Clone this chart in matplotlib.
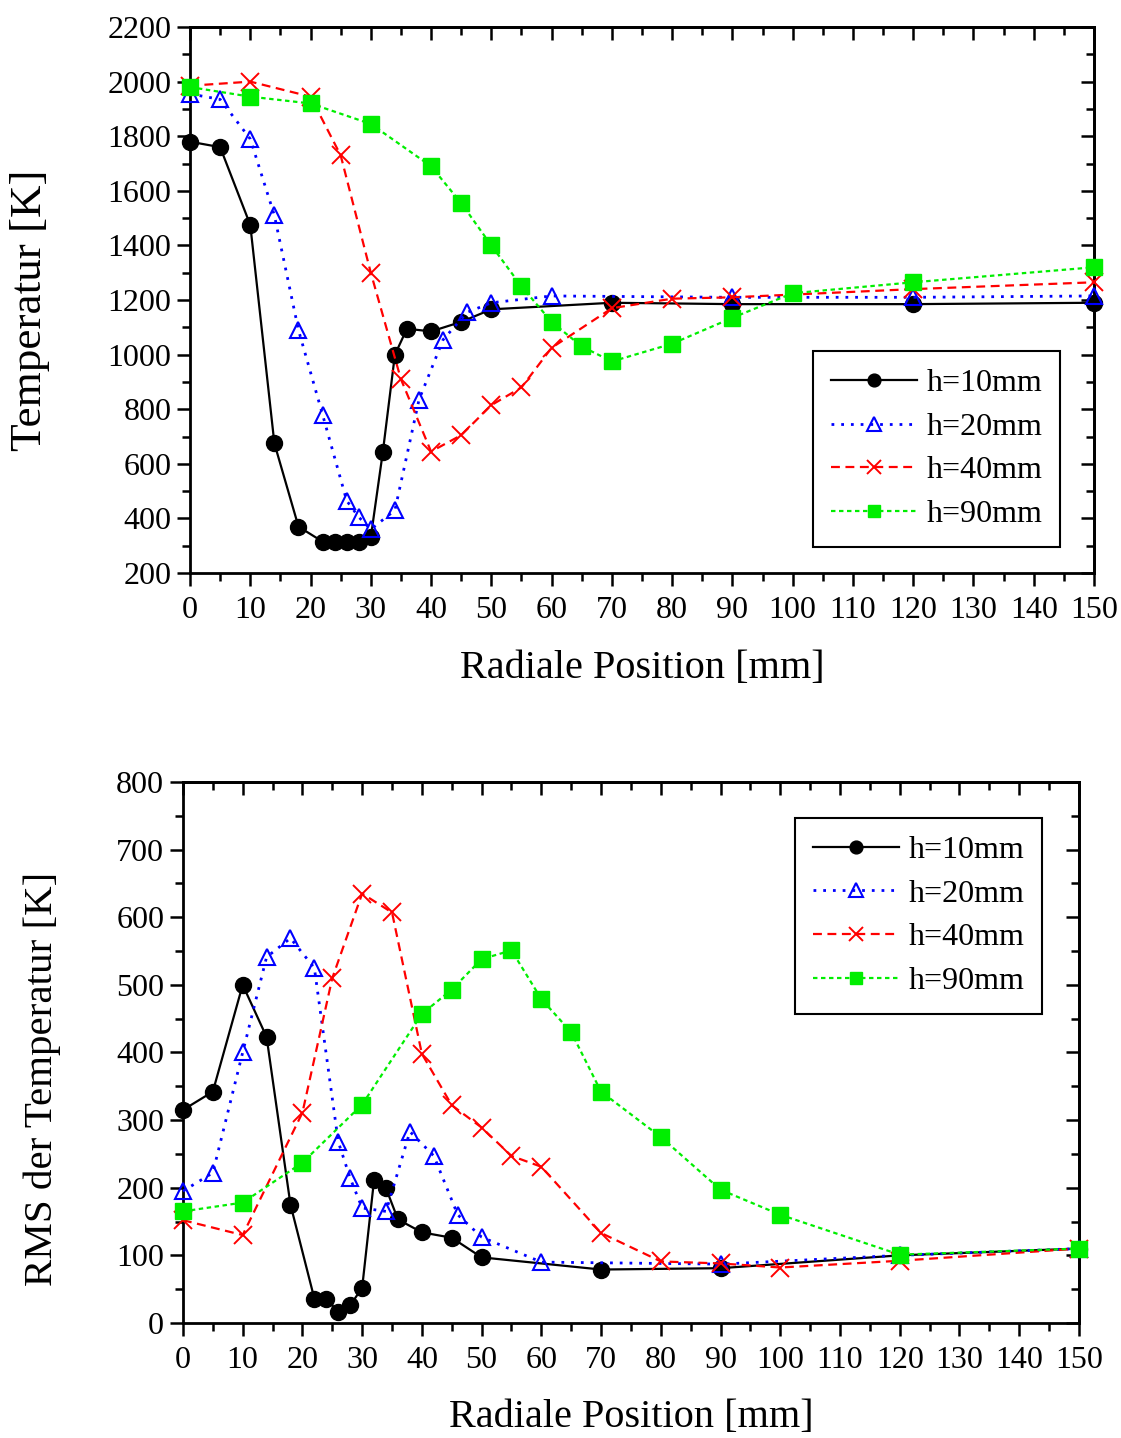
import matplotlib
matplotlib.use("Agg")
import matplotlib.pyplot as plt
from matplotlib.ticker import MultipleLocator

plt.rcParams['font.family'] = ['Liberation Serif', 'DejaVu Serif']
plt.rcParams['mathtext.fontset'] = 'stix'

# ---------------- Data: Temperature ----------------
t10_x = [0, 5, 10, 14, 18, 22, 24, 26, 28, 30, 32, 34, 36, 40, 45, 50, 70, 90, 120, 150]
t10_y = [1780, 1760, 1475, 675, 370, 315, 315, 312, 315, 331, 644, 1000, 1095, 1085, 1120, 1166, 1190, 1185, 1185, 1190]

t20_x = [0, 5, 10, 14, 18, 22, 26, 28, 30, 34, 38, 42, 46, 50, 60, 90, 120, 150]
t20_y = [1955, 1935, 1790, 1510, 1090, 780, 465, 405, 360, 430, 835, 1055, 1155, 1190, 1215, 1210, 1210, 1215]

t40_x = [0, 10, 20, 25, 30, 35, 40, 45, 50, 55, 60, 70, 80, 90, 120, 150]
t40_y = [1985, 2000, 1945, 1730, 1300, 910, 645, 705, 815, 880, 1025, 1170, 1205, 1210, 1240, 1265]

t90_x = [0, 10, 20, 30, 40, 45, 50, 55, 60, 65, 70, 80, 90, 100, 120, 150]
t90_y = [1980, 1945, 1920, 1845, 1690, 1555, 1400, 1250, 1120, 1030, 975, 1040, 1135, 1225, 1265, 1320]

# ---------------- Data: RMS ----------------
r10_x = [0, 5, 10, 14, 18, 22, 24, 26, 28, 30, 32, 34, 36, 40, 45, 50, 70, 90, 120, 150]
r10_y = [315, 342, 500, 423, 175, 36, 36, 16, 26, 52, 212, 199, 153, 134, 126, 97, 79, 81, 100, 110]

r20_x = [0, 5, 10, 14, 18, 22, 26, 28, 30, 34, 38, 42, 46, 50, 60, 90, 120, 150]
r20_y = [195, 222, 400, 541, 569, 525, 268, 214, 170, 165, 283, 247, 160, 127, 90, 87, 100, 110]

r40_x = [0, 10, 20, 25, 30, 35, 40, 45, 50, 55, 60, 70, 80, 90, 100, 120, 150]
r40_y = [152, 130, 311, 510, 635, 607, 398, 322, 289, 247, 231, 133, 91, 88, 82, 92, 110]

r90_x = [0, 10, 20, 30, 40, 45, 50, 55, 60, 65, 70, 80, 90, 100, 120, 150]
r90_y = [165, 178, 237, 323, 457, 493, 538, 551, 479, 430, 342, 275, 197, 160, 101, 110]

labels = ["h=10mm", "h=20mm", "h=40mm", "h=90mm"]

styles = [
    dict(color='black', linestyle='-', marker='o', markersize=11.5, markerfacecolor='black',
         markeredgecolor='black', linewidth=1.6),
    dict(color='#0000ff', linestyle=(0, (1, 2.5)), marker='^', markersize=12, markerfacecolor='none',
         markeredgecolor='#0000ff', markeredgewidth=1.5, linewidth=2.0),
    dict(color='#ff0000', linestyle=(0, (4, 2.5)), marker='x', markersize=12.5,
         markeredgecolor='#ff0000', markeredgewidth=1.4, linewidth=1.6),
    dict(color='#00ee00', linestyle=(0, (2, 1.6)), marker='s', markersize=11, markerfacecolor='#00ee00',
         markeredgecolor='#00ee00', linewidth=1.6),
]

fig = plt.figure(figsize=(11.21, 14.38), dpi=100)
ax1 = fig.add_axes([0.1695, 0.6015, 0.8064, 0.3797])
ax2 = fig.add_axes([0.1632, 0.0800, 0.7993, 0.3762])


def style_axes(ax):
    for s in ax.spines.values():
        s.set_linewidth(2.0)
    ax.xaxis.set_major_locator(MultipleLocator(10))
    ax.xaxis.set_minor_locator(MultipleLocator(5))
    ax.tick_params(which='both', width=1.8, labelsize=23, colors='black')
    ax.tick_params(which='major', length=9.5)
    ax.tick_params(which='minor', length=5.5)
    ax.tick_params(axis='x', which='both', direction='out', bottom=True, top=False, pad=7)
    ax.tick_params(axis='y', which='both', direction='out', left=True, right=False, pad=4)
    sec_x = ax.secondary_xaxis('top')
    sec_x.xaxis.set_major_locator(MultipleLocator(10))
    sec_x.xaxis.set_minor_locator(MultipleLocator(5))
    sec_x.tick_params(which='both', direction='in', width=1.8, labeltop=False)
    sec_x.tick_params(which='major', length=9.5)
    sec_x.tick_params(which='minor', length=5.5)
    sec_x.spines['top'].set_linewidth(2.0)
    return sec_x


series_t = [(t10_x, t10_y), (t20_x, t20_y), (t40_x, t40_y), (t90_x, t90_y)]
series_r = [(r10_x, r10_y), (r20_x, r20_y), (r40_x, r40_y), (r90_x, r90_y)]

for ax, series in ((ax1, series_t), (ax2, series_r)):
    for (xs, ys), lab, st in zip(series, labels, styles):
        ax.plot(xs, ys, label=lab, clip_on=False, zorder=3, **st)
    ax.set_xlim(0, 150)
    style_axes(ax)

ax1.set_ylim(200, 2200)
ax1.yaxis.set_major_locator(MultipleLocator(200))
ax1.yaxis.set_minor_locator(MultipleLocator(100))
ax2.set_ylim(0, 800)
ax2.yaxis.set_major_locator(MultipleLocator(100))
ax2.yaxis.set_minor_locator(MultipleLocator(50))

for ax in (ax1, ax2):
    sec_y = ax.secondary_yaxis('right')
    sec_y.yaxis.set_major_locator(ax.yaxis.get_major_locator())
    sec_y.yaxis.set_minor_locator(ax.yaxis.get_minor_locator())
    sec_y.tick_params(which='both', direction='in', width=1.8, labelright=False)
    sec_y.tick_params(which='major', length=9.5)
    sec_y.tick_params(which='minor', length=5.5)
    sec_y.spines['right'].set_linewidth(2.0)

ax1.set_xlabel("Radiale Position [mm]", fontsize=29, va='center')
ax1.xaxis.set_label_coords(0.5, -0.174)
ax1.set_ylabel("Temperatur [K]", fontsize=32.5, va='center')
ax1.yaxis.set_label_coords(-0.177, 0.482)
ax2.set_xlabel("Radiale Position [mm]", fontsize=29, va='center')
ax2.xaxis.set_label_coords(0.5, -0.1756)
ax2.set_ylabel("RMS der Temperatur [K]", fontsize=29.5, va='center')
ax2.yaxis.set_label_coords(-0.157, 0.451)

leg_kw = dict(fontsize=23, frameon=True, fancybox=False, edgecolor='black', framealpha=1,
              handlelength=2.7, markerscale=0.8, borderpad=0.55, labelspacing=0.45,
              handletextpad=0.3, borderaxespad=0)
l1 = ax1.legend(loc='upper right', bbox_to_anchor=(0.9624, 0.4066), **leg_kw)
l2 = ax2.legend(loc='upper right', bbox_to_anchor=(0.9587, 0.9335), **leg_kw)
for l in (l1, l2):
    l.get_frame().set_linewidth(1.5)

fig.savefig("out.png", dpi=100)
